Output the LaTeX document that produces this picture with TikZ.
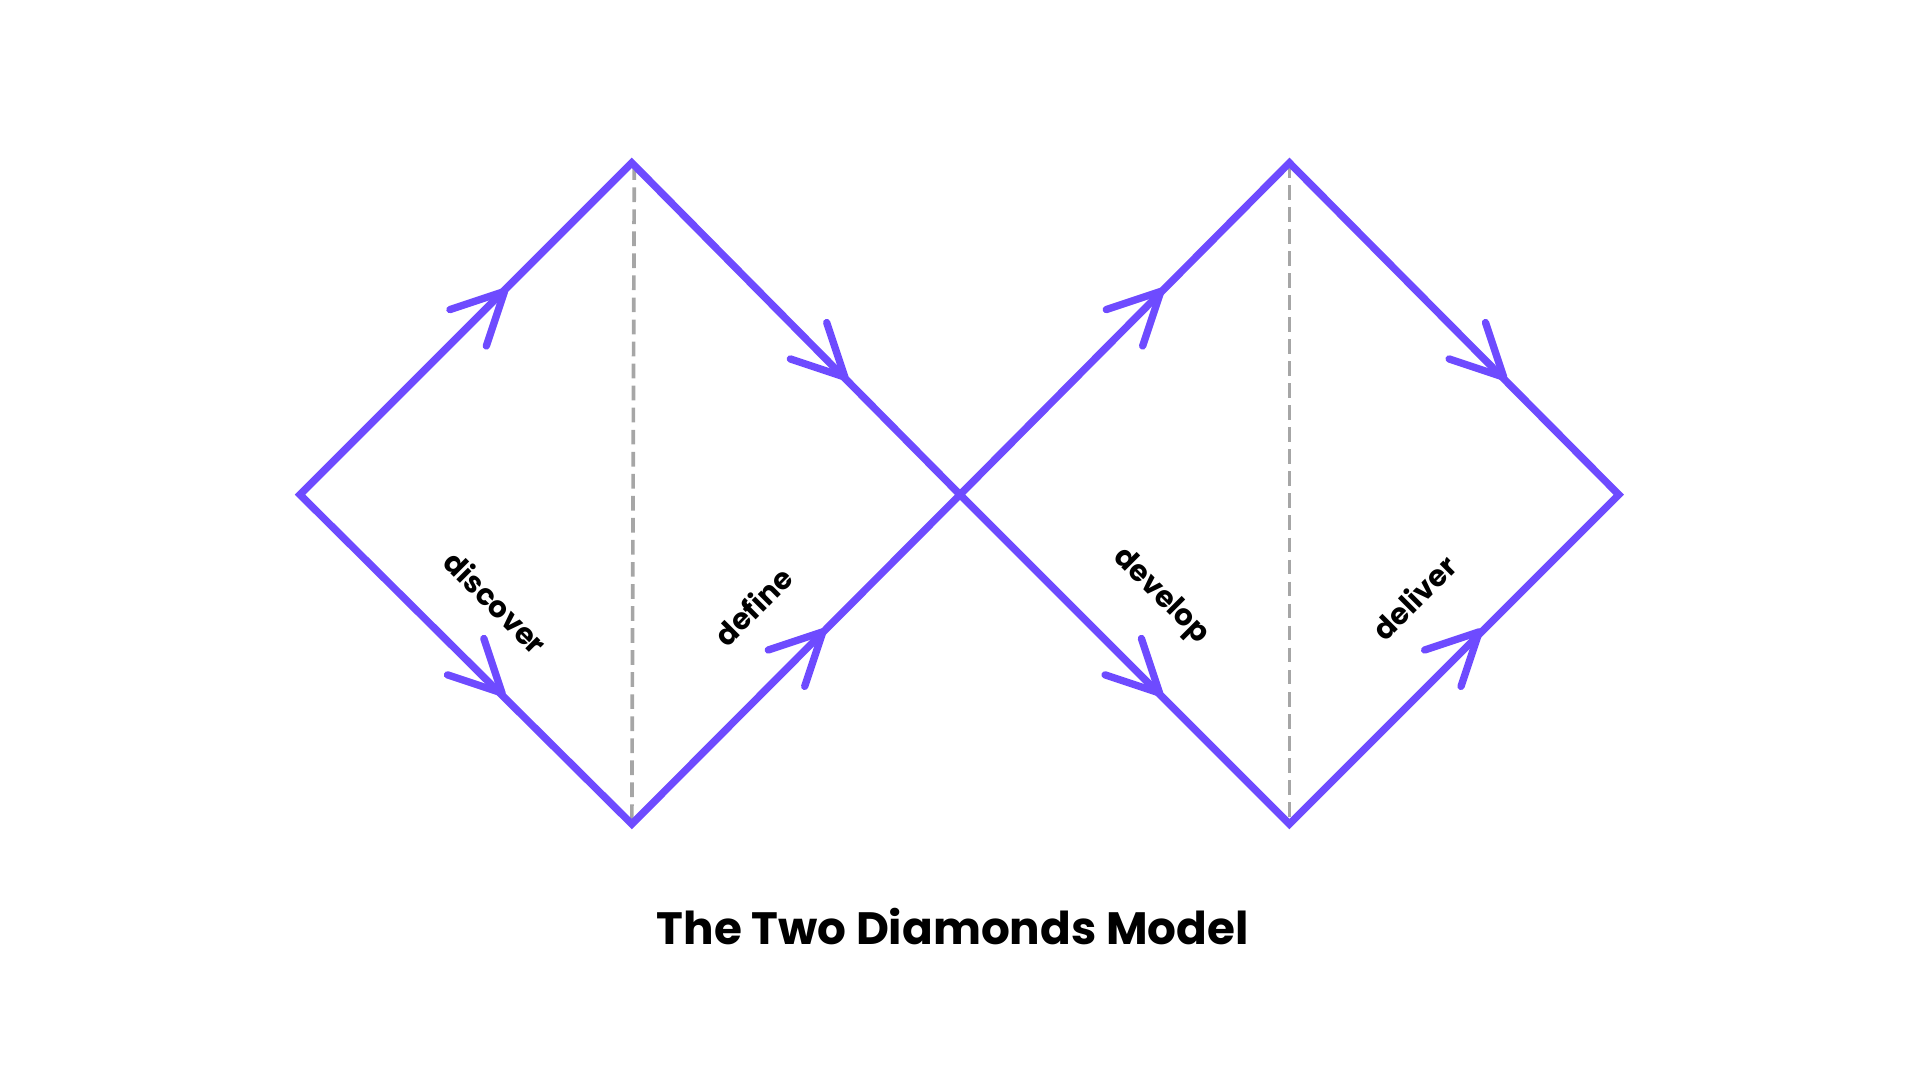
\documentclass[tikz,border=0pt]{standalone}
\usepackage{fontspec}
\setmainfont{Poppins}
\definecolor{dpurple}{HTML}{6E4BFF}
\definecolor{dgray}{HTML}{A6A6A6}
\begin{document}
\begin{tikzpicture}[x=1pt,y=1pt,
  edge/.style={draw=dpurple,line width=6pt,line join=miter},
  arrowline/.style={draw=dpurple,line width=6pt,line cap=round,line join=round},
  guide/.style={draw=dgray,line width=3pt,dash pattern=on 12pt off 6pt},
  lab/.style={font=\bfseries\fontsize{24}{28}\selectfont},
  vhead/.pic={\draw[arrowline] (-42,21) -- (0,0) -- (-42,-21);}]
\useasboundingbox (0,0) rectangle (1568,882);
\coordinate (L) at (245,478);
\coordinate (T1) at (516,749);
\coordinate (B1) at (516,209);
\coordinate (C) at (784,478);
\coordinate (T2) at (1053,749);
\coordinate (B2) at (1053,209);
\coordinate (R) at (1322,478);
\coordinate (T1d) at (518,747);
\draw[guide] (T1d) -- (B1);
\draw[guide] (T2) -- (B2);
\draw[edge] (C) -- (B1) -- (L) -- (T1) -- (C) -- (B2) -- (R) -- (T2) -- cycle;
\pic[rotate=45] at (412,644) {vhead};
\pic[rotate=-45] at (410,316) {vhead};
\pic[rotate=-45] at (690,574) {vhead};
\pic[rotate=45] at (672,366) {vhead};
\pic[rotate=45] at (948,644) {vhead};
\pic[rotate=-45] at (947,316) {vhead};
\pic[rotate=-45] at (1228,574) {vhead};
\pic[rotate=45] at (1208,366) {vhead};
\node[lab,rotate=-45] (discover) at (405,390) {discover};
\node[lab,rotate=45] (define) at (615,387) {define};
\node[lab,rotate=-45] (develop) at (948,395) {develop};
\node[lab,rotate=45] (deliver) at (1155,394) {deliver};
\node[font=\bfseries\fontsize{37}{42}\selectfont] (title) at (778,125) {The Two Diamonds Model};
\end{tikzpicture}
\end{document}
